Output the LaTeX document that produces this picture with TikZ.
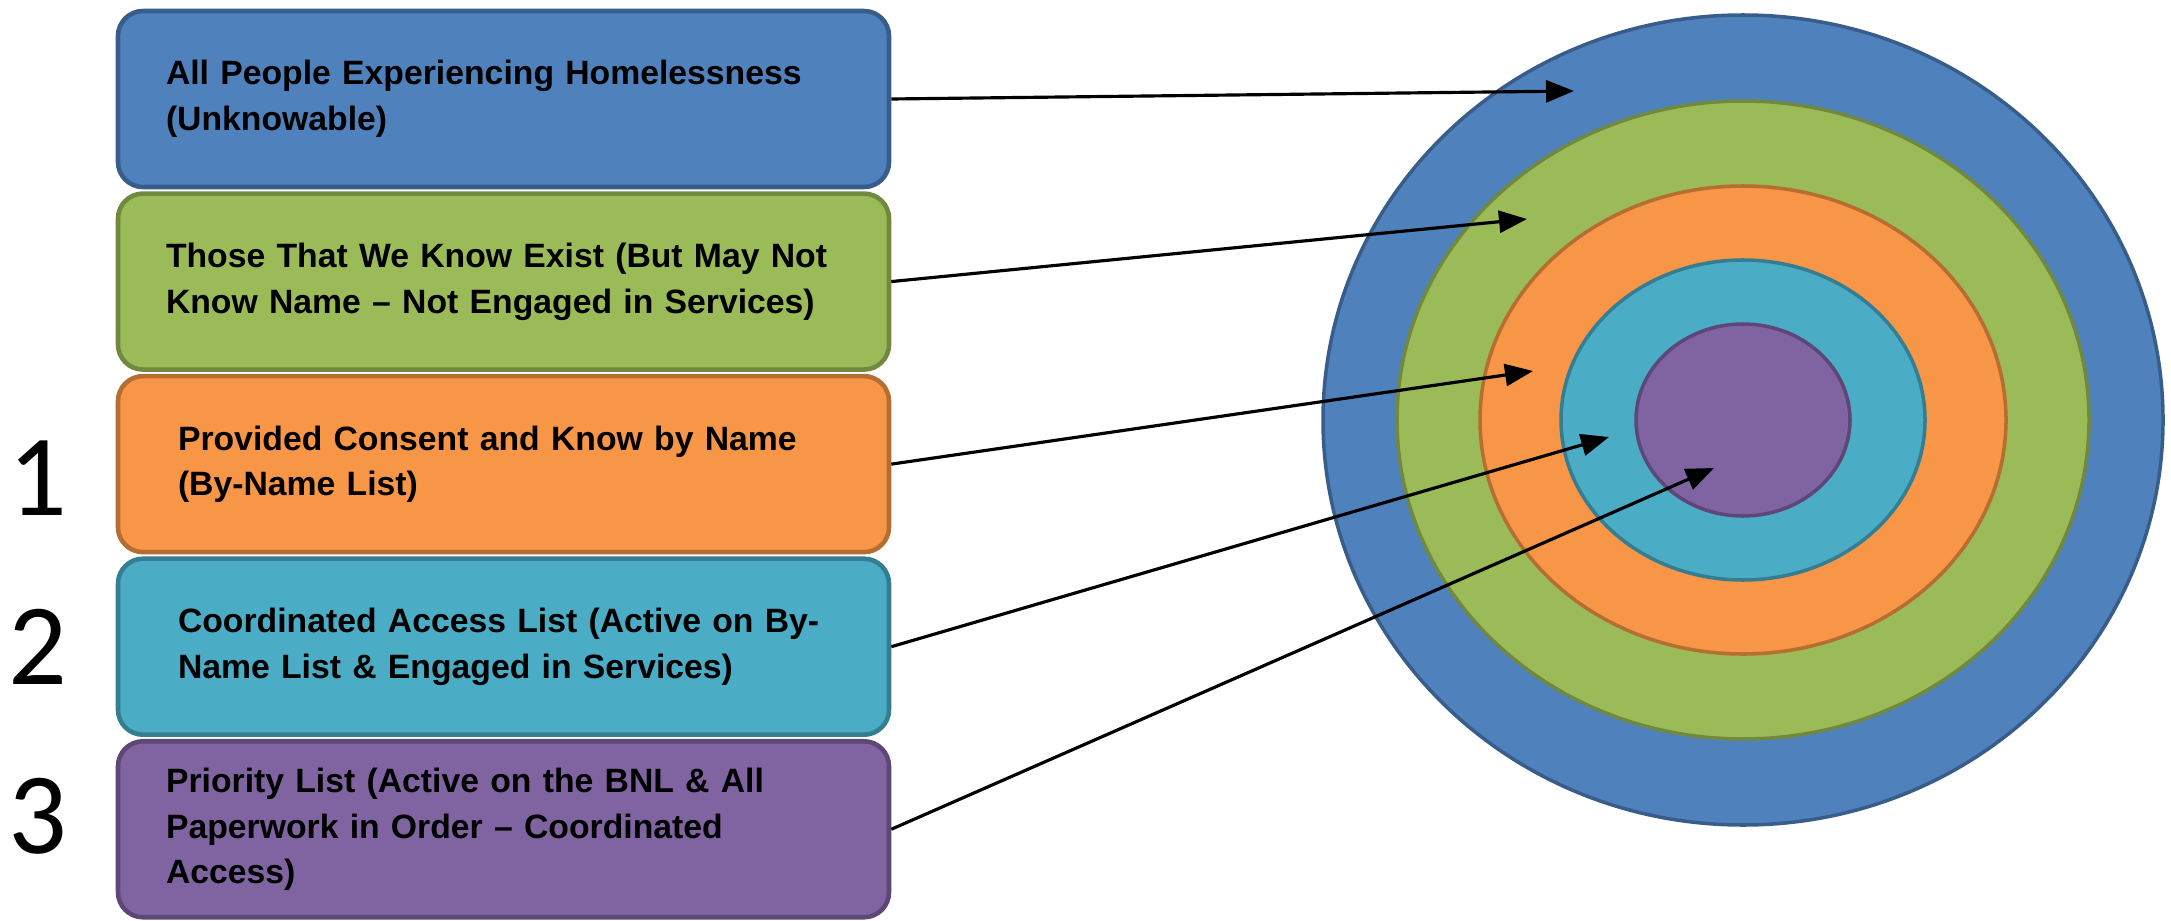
\documentclass[tikz,border=0pt]{standalone}
\usepackage{fontspec}
\setmainfont{Liberation Sans}
\newfontfamily\numfont{Carlito}
\usetikzlibrary{positioning, arrows.meta}
\definecolor{ringblue}{HTML}{4F81BD}
\definecolor{ringblueline}{HTML}{385D8A}
\definecolor{ringgreen}{HTML}{9BBB59}
\definecolor{ringgreenline}{HTML}{71893F}
\definecolor{ringorange}{HTML}{F79646}
\definecolor{ringorangeline}{HTML}{B66D31}
\definecolor{ringcyan}{HTML}{4BACC6}
\definecolor{ringcyanline}{HTML}{357D91}
\definecolor{ringpurple}{HTML}{8064A2}
\definecolor{ringpurpleline}{HTML}{5C4776}
\tikzset{
  listbox/.style={draw, line width=1.3pt, rounded corners=0.25cm, minimum width=7.71cm,
    minimum height=1.76cm, text width=6.75cm, inner xsep=0.48cm, align=left,
    font=\fontsize{9.6}{13}\selectfont\bfseries}, % the five labelled boxes
  ring/.style={line width=1pt}, % the nested ellipses
  pointer/.style={-{Triangle[length=0.28cm,width=0.22cm]}, line width=0.9pt}, % box to ring
  level/.style={font=\numfont\fontsize{33}{33}\selectfont, inner sep=0pt}, % the numbers 1-3
}
\begin{document}
\begin{tikzpicture}
    \useasboundingbox (0,0) rectangle (21.71,9.2);

    % boxes
    \node[listbox, fill=ringblue, draw=ringblueline] (box1) at (5.035,8.21)
      {All People Experiencing Homelessness\\(Unknowable)};
    \node[listbox, fill=ringgreen, draw=ringgreenline, below=0.02cm of box1] (box2)
      {Those That We Know Exist (But May Not\\Know Name -- Not Engaged in Services)};
    \node[listbox, fill=ringorange, draw=ringorangeline, below=0.02cm of box2,
      inner xsep=0.6cm, text width=6.51cm] (box3)
      {Provided Consent and Know by Name\\(By-Name List)};
    \node[listbox, fill=ringcyan, draw=ringcyanline, below=0.02cm of box3,
      inner xsep=0.6cm, text width=6.51cm] (box4)
      {Coordinated Access List (Active on By-\\Name List \& Engaged in Services)};
    \node[listbox, fill=ringpurple, draw=ringpurpleline, below=0.02cm of box4] (box5)
      {Priority List (Active on the BNL \& All\\Paperwork in Order -- Coordinated\\Access)};

    % numbers
    \node[level, left=0.48cm of box3, yshift=-0.14cm] (one) {1};
    \node[level, left=0.48cm of box4] (two) {2};
    \node[level, left=0.48cm of box5, yshift=0.13cm] (three) {3};

    % rings
    \coordinate (core) at (17.43,5.00);
    \draw[ring, fill=ringblue, draw=ringblueline] (core) ellipse [x radius=4.20, y radius=4.05];
    \draw[ring, fill=ringgreen, draw=ringgreenline] (core) ellipse [x radius=3.46, y radius=3.19];
    \draw[ring, fill=ringorange, draw=ringorangeline] (core) ellipse [x radius=2.63, y radius=2.34];
    \draw[ring, fill=ringcyan, draw=ringcyanline] (core) ellipse [x radius=1.82, y radius=1.60];
    \draw[ring, fill=ringpurple, draw=ringpurpleline] (core) ellipse [x radius=1.07, y radius=0.96];

    % arrow targets
    \coordinate (t1) at (15.74,8.29);
    \coordinate (t2) at (15.27,7.01);
    \coordinate (t3) at (15.33,5.49);
    \coordinate (t4) at (16.09,4.83);
    \coordinate (t5) at (17.14,4.52);

    \foreach \i in {1,...,5}
      \draw[pointer] (box\i.east) -- (t\i);

\end{tikzpicture}
\end{document}
